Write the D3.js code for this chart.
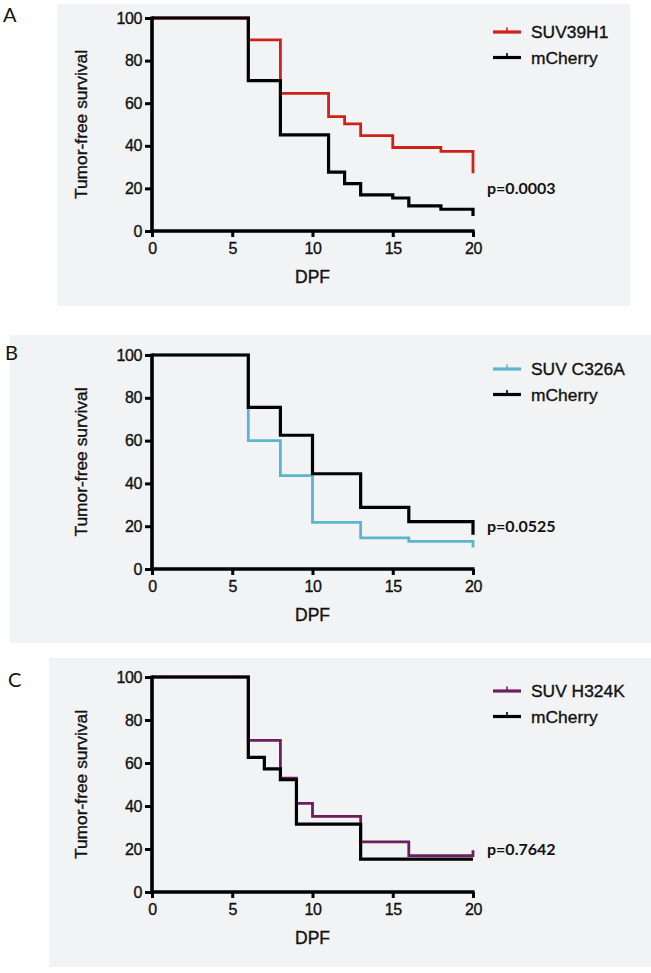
<!DOCTYPE html>
<html>
<head>
<meta charset="utf-8">
<script src="https://cdn.jsdelivr.net/npm/d3@7"></script>
<style>
  html, body { margin: 0; padding: 0; background: #ffffff; }
  svg { display: block; }
  .tick text { font-family: "Liberation Sans", Arial, sans-serif; font-size: 16px; letter-spacing: -0.4px; fill: #111; stroke: #111; stroke-width: 0.35px; }
  .arm { stroke: #111; stroke-width: 0.35px; }
</style>
</head>
<body>
<svg id="chart" width="651" height="973"></svg>
<script>
// ---------------- data ----------------
const panelLabels = ["A", "B", "C"];
const treatmentNames = ["SUV39H1", "SUV C326A", "SUV H324K"];
const controlName = "mCherry";
const pValues = ["p=0.0003", "p=0.0525", "p=0.7642"];
const xTicks = [0, 5, 10, 15, 20];
const yTicks = [0, 20, 40, 60, 80, 100];
const xLabel = "DPF";
const yLabel = "Tumor-free survival";

// Panel A
const timesA_treat = [0, 6, 8, 11, 12, 13, 15, 18, 20];
const survA_treat  = [100, 89.7, 64.6, 53.7, 50.3, 44.8, 39.2, 37.4, 27.1];
const timesA_ctrl  = [0, 6, 8, 11, 12, 13, 15, 16, 18, 20];
const survA_ctrl   = [100, 70.6, 45.1, 27.6, 22.2, 17.0, 15.5, 11.8, 10.2, 7.0];
// Panel B
const timesB_treat = [0, 6, 8, 10, 13, 16, 20];
const survB_treat  = [100, 60.0, 43.6, 21.8, 14.5, 12.9, 10.0];
const timesB_ctrl  = [0, 6, 8, 10, 13, 16, 20];
const survB_ctrl   = [100, 75.5, 62.5, 44.5, 28.8, 22.1, 16.0];
// Panel C
const timesC_treat = [0, 6, 8, 9, 10, 13, 16, 20];
const survC_treat  = [100, 70.5, 52.9, 41.2, 35.2, 23.3, 16.9, 19.4];
const timesC_ctrl  = [0, 6, 7, 8, 9, 13, 20];
const survC_ctrl   = [100, 62.6, 57.3, 52.2, 31.6, 15.3, 15.3];

const treatColors = ["#cf2119", "#5bb5cd", "#6c1f5e"];
const ctrlColor = "#000000";

// ---------------- layout ----------------
const layout = [
  { box: { x: 57, y: 4,   w: 573, h: 302 }, top: 18,  bottom: 231, lab: { x: 3, y: 22 } },
  { box: { x: 10, y: 335, w: 641, h: 308 }, top: 355, bottom: 569, lab: { x: 5, y: 360 } },
  { box: { x: 49, y: 658, w: 602, h: 309 }, top: 677, bottom: 892, lab: { x: 8, y: 687 } }
];
const plotLeft = 152, plotRight = 473;

const series = [
  { treat: [timesA_treat, survA_treat], ctrl: [timesA_ctrl, survA_ctrl] },
  { treat: [timesB_treat, survB_treat], ctrl: [timesB_ctrl, survB_ctrl] },
  { treat: [timesC_treat, survC_treat], ctrl: [timesC_ctrl, survC_ctrl] }
];

const svg = d3.select("#chart");
const armFont = '"Liberation Sans", Arial, sans-serif';

layout.forEach((L, i) => {
  const g = svg.append("g");
  g.append("rect")
    .attr("x", L.box.x).attr("y", L.box.y)
    .attr("width", L.box.w).attr("height", L.box.h)
    .attr("fill", "#f2f3f5");

  g.append("text")
    .attr("x", L.lab.x).attr("y", L.lab.y)
    .attr("font-family", "Lato, 'Open Sans', sans-serif")
    .attr("font-size", 20)
    .attr("fill", "#111")
    .text(panelLabels[i]);

  const x = d3.scaleLinear().domain([0, 20]).range([plotLeft, plotRight]);
  const y = d3.scaleLinear().domain([0, 100]).range([L.bottom, L.top]);

  const line = d3.line()
    .x(d => x(d[0])).y(d => y(d[1]))
    .curve(d3.curveStepAfter);

  const toPts = ([t, s]) => t.map((v, k) => [v, s[k]]);

  // treatment curve first, control on top
  g.append("path")
    .attr("d", line(toPts(series[i].treat)))
    .attr("fill", "none")
    .attr("stroke", treatColors[i])
    .attr("stroke-width", 2.8)
    .attr("stroke-linejoin", "miter");
  g.append("path")
    .attr("d", line(toPts(series[i].ctrl)))
    .attr("fill", "none")
    .attr("stroke", ctrlColor)
    .attr("stroke-width", 3.2)
    .attr("stroke-linejoin", "miter");

  // axes
  const yAxis = d3.axisLeft(y).tickValues(yTicks).tickSize(7).tickSizeOuter(0).tickPadding(3);
  const xAxis = d3.axisBottom(x).tickValues(xTicks).tickSize(6).tickSizeOuter(0).tickPadding(6);
  const ga = g.append("g").attr("transform", `translate(${plotLeft},0)`).call(yAxis);
  const gb = g.append("g").attr("transform", `translate(0,${L.bottom})`).call(xAxis);
  [ga, gb].forEach(a => {
    a.select(".domain").attr("stroke", "#000").attr("stroke-width", 3.6);
    a.selectAll(".tick line").attr("stroke", "#000").attr("stroke-width", 3);
  });
  ga.select(".domain").attr("d", `M0,${L.bottom + 1.8}V${L.top - 1.5}`);
  gb.select(".domain").attr("d", `M${plotLeft - 1.8},0H${plotRight + 1.5}`);

  // axis titles
  g.append("text")
    .attr("class", "arm")
    .attr("transform", `translate(87,${(L.top + L.bottom) / 2}) rotate(-90)`)
    .attr("text-anchor", "middle")
    .attr("font-family", armFont)
    .attr("font-size", 17.4)
    .attr("fill", "#111")
    .text(yLabel);
  g.append("text")
    .attr("class", "arm")
    .attr("x", (plotLeft + plotRight) / 2)
    .attr("y", L.bottom + 52)
    .attr("text-anchor", "middle")
    .attr("font-family", armFont)
    .attr("font-size", 17.5)
    .attr("fill", "#111")
    .text(xLabel);

  // p-value
  g.append("text")
    .attr("x", 487)
    .attr("y", y(20) + 6)
    .attr("font-family", "Lato, 'Open Sans', sans-serif")
    .attr("font-weight", "bold")
    .attr("font-size", 16)
    .attr("fill", "#111")
    .text(pValues[i]);

  // legend
  const legend = [
    { name: treatmentNames[i], color: treatColors[i], dy: 14 },
    { name: controlName, color: ctrlColor, dy: 39.5 }
  ];
  legend.forEach(item => {
    const ly = L.top + item.dy;
    g.append("line")
      .attr("x1", 493).attr("x2", 521).attr("y1", ly).attr("y2", ly)
      .attr("stroke", item.color).attr("stroke-width", 3.2);
    g.append("line")
      .attr("x1", 507).attr("x2", 507).attr("y1", ly).attr("y2", ly - 4.5)
      .attr("stroke", item.color).attr("stroke-width", 1.6);
    g.append("text")
      .attr("class", "arm")
      .attr("x", 531).attr("y", ly + 6)
      .attr("font-family", armFont)
      .attr("font-size", 17.4)
      .attr("fill", "#111")
      .text(item.name);
  });
});
</script>
</body>
</html>
